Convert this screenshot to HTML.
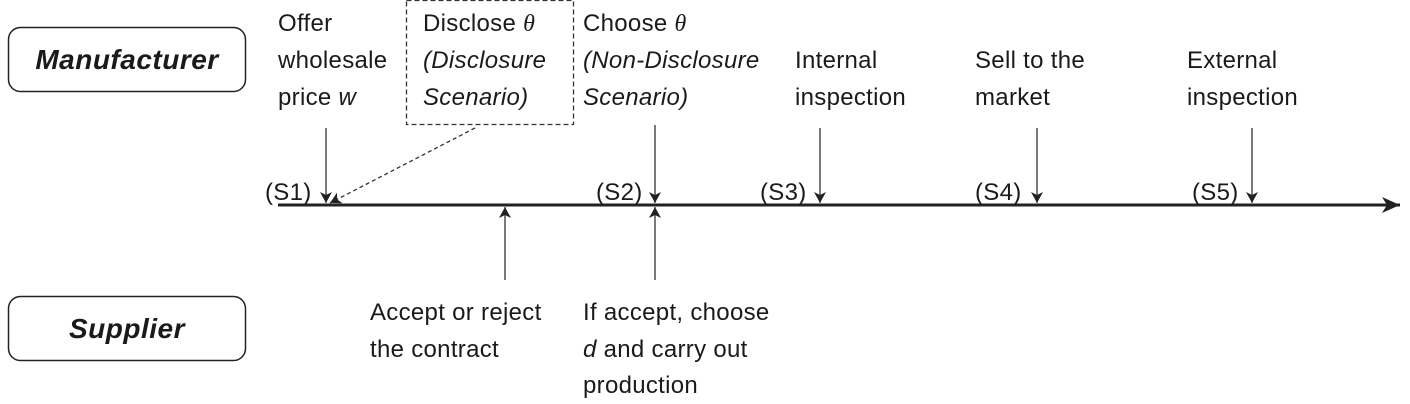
<!DOCTYPE html>
<html><head><meta charset="utf-8"><style>
html,body{margin:0;padding:0;background:#fff;}
svg{display:block;}
text{font-family:"Liberation Sans",sans-serif;font-size:24px;fill:#1a1a1a;letter-spacing:0.3px;}
.i{font-style:italic;}
.b{font-weight:bold;font-style:italic;font-size:28px;letter-spacing:0.5px;}
</style></head><body>
<svg width="1410" height="404" viewBox="0 0 1410 404" xmlns="http://www.w3.org/2000/svg">
<defs>
<marker id="a" markerWidth="12" markerHeight="12" refX="11" refY="6" orient="auto" markerUnits="userSpaceOnUse">
<path d="M0,0 L11,6 L0,12 L3,6 Z" fill="#222"/></marker>
<marker id="big" markerWidth="20" markerHeight="20" refX="18" refY="8" orient="auto" markerUnits="userSpaceOnUse">
<path d="M0,0 L18,8 L0,16 L5,8 Z" fill="#222"/></marker>
</defs>
<rect x="8.5" y="27.5" width="237" height="64" rx="12" fill="none" stroke="#222" stroke-width="1.5"/>
<text x="127" y="69" text-anchor="middle" class="b">Manufacturer</text>
<rect x="8.5" y="296.5" width="237" height="64" rx="12" fill="none" stroke="#222" stroke-width="1.5"/>
<text x="127" y="338" text-anchor="middle" class="b">Supplier</text>

<rect x="406.5" y="0.5" width="167" height="124" fill="none" stroke="#333" stroke-width="1.3" stroke-dasharray="5,3"/>

<line x1="278" y1="205" x2="1400" y2="205" stroke="#222" stroke-width="3" marker-end="url(#big)"/>

<g stroke="#333" stroke-width="1.3">
<line x1="326" y1="128" x2="326" y2="203" marker-end="url(#a)"/>
<line x1="655" y1="125" x2="655" y2="203" marker-end="url(#a)"/>
<line x1="820" y1="128" x2="820" y2="203" marker-end="url(#a)"/>
<line x1="1037" y1="128" x2="1037" y2="203" marker-end="url(#a)"/>
<line x1="1252" y1="128" x2="1252" y2="203" marker-end="url(#a)"/>
<line x1="505" y1="280" x2="505" y2="207" marker-end="url(#a)"/>
<line x1="655" y1="280" x2="655" y2="207" marker-end="url(#a)"/>
<line x1="475" y1="128" x2="330" y2="203" stroke-dasharray="4,3" marker-end="url(#a)"/>
</g>

<text x="278" y="31">Offer</text>
<text x="278" y="68">wholesale</text>
<text x="278" y="105">price <tspan class="i">w</tspan></text>

<text x="423" y="31">Disclose <tspan class="i" font-family="Liberation Serif">θ</tspan></text>
<text x="423" y="68" class="i">(Disclosure</text>
<text x="423" y="105" class="i">Scenario)</text>

<text x="583" y="31">Choose <tspan class="i" font-family="Liberation Serif">θ</tspan></text>
<text x="583" y="68" class="i">(Non-Disclosure</text>
<text x="583" y="105" class="i">Scenario)</text>

<text x="795" y="68">Internal</text>
<text x="795" y="105">inspection</text>
<text x="975" y="68">Sell to the</text>
<text x="975" y="105">market</text>
<text x="1187" y="68">External</text>
<text x="1187" y="105">inspection</text>

<text x="265" y="200">(S1)</text>
<text x="596" y="200">(S2)</text>
<text x="760" y="200">(S3)</text>
<text x="975" y="200">(S4)</text>
<text x="1192" y="200">(S5)</text>

<text x="370" y="320">Accept or reject</text>
<text x="370" y="357">the contract</text>
<text x="583" y="320">If accept, choose</text>
<text x="583" y="357"><tspan class="i">d</tspan> and carry out</text>
<text x="583" y="393">production</text>
</svg>
</body></html>
